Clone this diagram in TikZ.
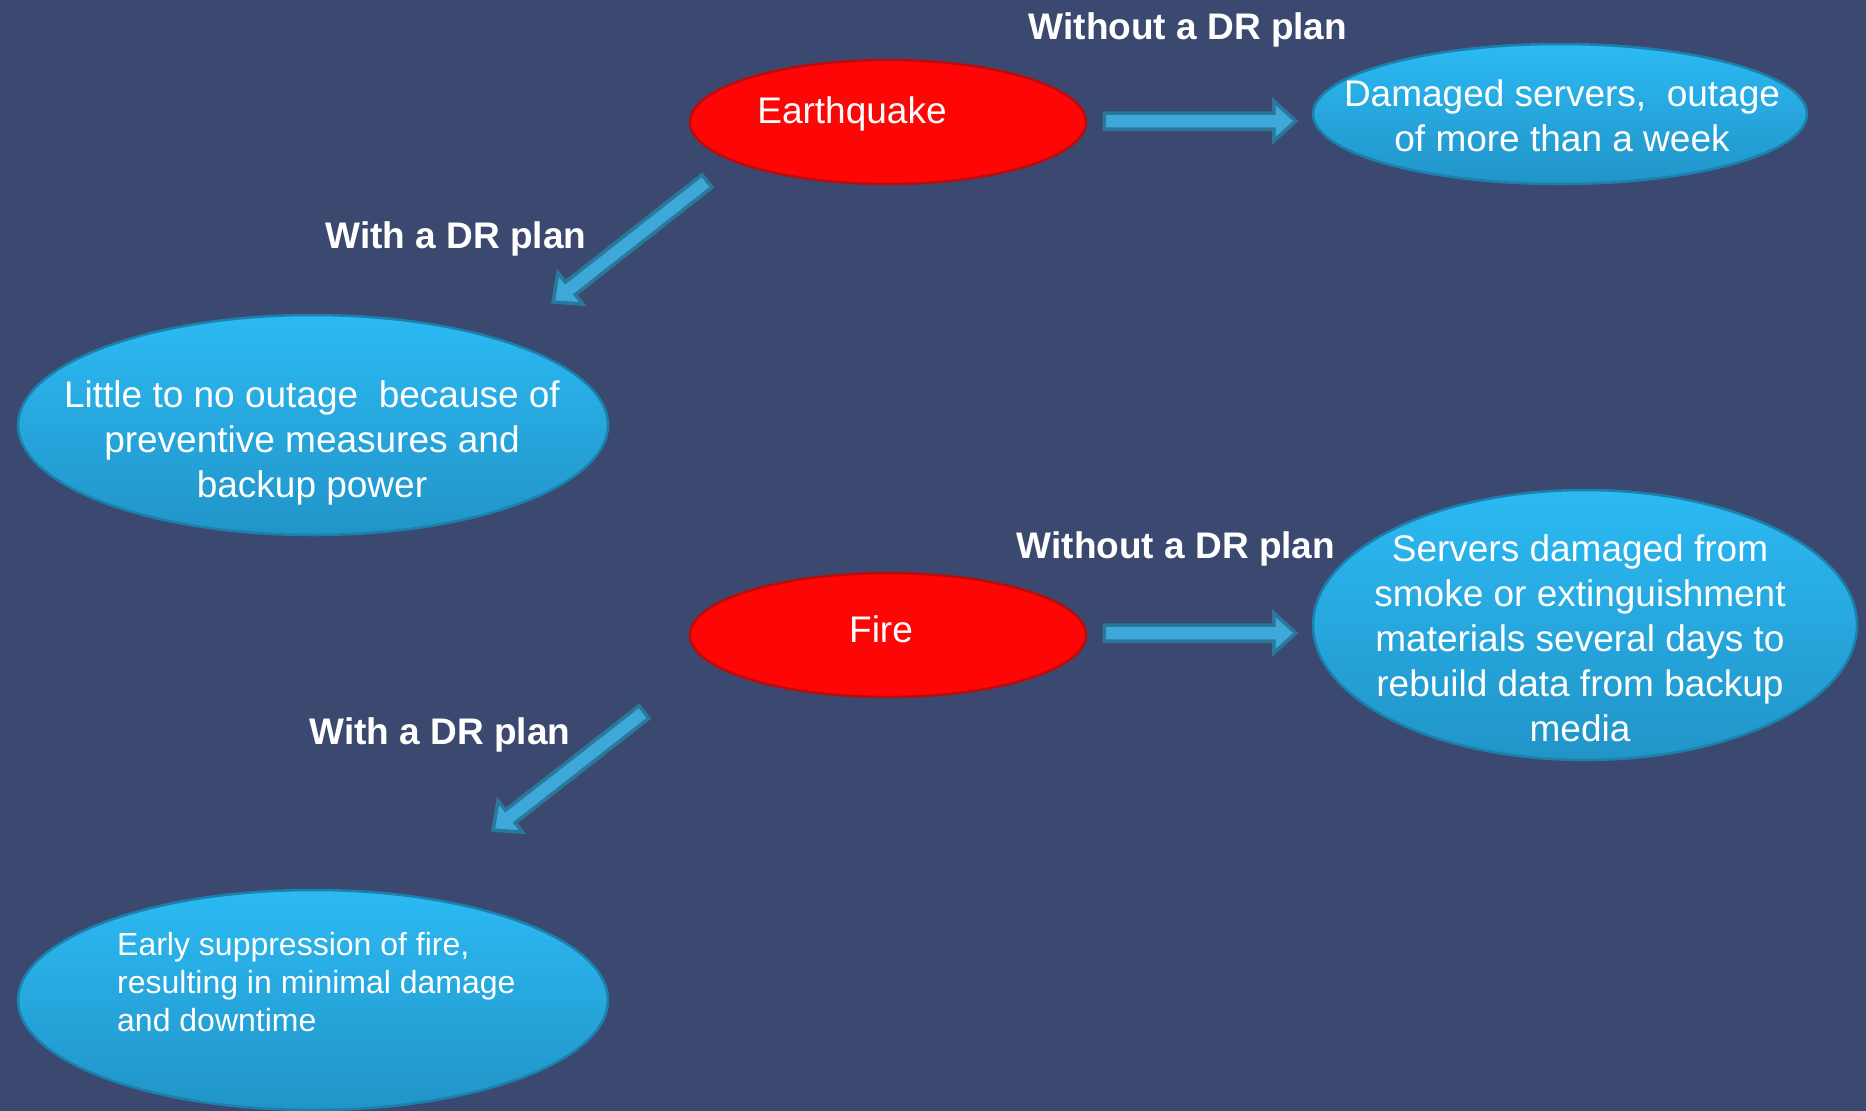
\documentclass[tikz,border=0pt]{standalone}
\usepackage{fontspec}
\setmainfont{Liberation Sans}
\usetikzlibrary{calc,shapes.geometric}
\definecolor{bg}{RGB}{59,73,112}
\definecolor{redfill}{RGB}{255,6,6}
\definecolor{redline}{RGB}{185,12,12}
\definecolor{bluetop}{RGB}{44,186,243}
\definecolor{bluebot}{RGB}{33,148,200}
\definecolor{blueline}{RGB}{28,128,172}
\definecolor{arrfill}{RGB}{62,168,216}
\definecolor{arrline}{RGB}{42,120,156}
\tikzset{
  redell/.style={ellipse, fill=redfill, draw=redline, line width=2.5pt, inner sep=0pt},
  blueell/.style={ellipse, top color=bluetop, bottom color=bluebot, draw=blueline, line width=2.5pt, inner sep=0pt},
  txt/.style={text=white, font=\fontsize{37}{45}\selectfont, align=center, inner sep=0pt},
  smalltxt/.style={text=white, font=\fontsize{32}{38}\selectfont, align=left, inner sep=0pt},
  lbl/.style={text=white, font=\bfseries\fontsize{37}{45}\selectfont, inner sep=0pt},
  blockarr/.style={fill=arrfill, draw=arrline, line width=3.5pt, line join=miter},
}
\newcommand\blockarrow[2]{%
  \draw[blockarr] let \p1=(#1), \p2=(#2), \n1={atan2(\y2-\y1,\x2-\x1)}, \n2={veclen(\x2-\x1,\y2-\y1)} in
  [shift={(\p1)}, rotate=\n1] (0,-8) -- ({\n2-22},-8) -- ({\n2-22},-20) -- (\n2,0) -- ({\n2-22},20) -- ({\n2-22},8) -- (0,8) -- cycle;}
\begin{document}
\begin{tikzpicture}[x=1pt,y=-1pt]
\useasboundingbox (0,0) rectangle (1866,1111);
\fill[bg] (0,0) rectangle (1866,1111);

% ellipses
\node[redell, minimum width=396pt, minimum height=124pt] (eq) at (888,122) {};
\node[blueell, minimum width=494pt, minimum height=140pt] (dmg) at (1560,114) {};
\node[blueell, minimum width=590pt, minimum height=220pt] (little) at (313,425) {};
\node[redell, minimum width=396pt, minimum height=124pt] (fire) at (888,635) {};
\node[blueell, minimum width=544pt, minimum height=270pt] (srv) at (1585,625) {};
\node[blueell, minimum width=590pt, minimum height=220pt] (early) at (313,1000) {};

% texts
\node[txt] (eqt) at (852,114) {Earthquake};
\node[txt] (dmgt) at (1562,116) {Damaged servers,\ \ outage\\of more than a week};
\node[txt] (littlet) at (312,443) {Little to no outage\ \ because of\\preventive measures and\\backup power};
\node[txt] (firet) at (881,629) {Fire};
\node[txt] (srvt) at (1580,638) {Servers damaged from\\smoke or extinguishment\\materials several days to\\rebuild data from backup\\media};
\node[smalltxt, anchor=north west] (earlyt) at (117,932) {Early suppression of fire,\\resulting in minimal damage\\and downtime};

% labels
\node[lbl] (w1) at (1188,30) {Without a DR plan};
\node[lbl] (d1) at (456,239) {With a DR plan};
\node[lbl] (w2) at (1176,549) {Without a DR plan};
\node[lbl] (d2) at (440,735) {With a DR plan};

% arrow end points
\coordinate (a1s) at ($(eq.east)+(17,-1)$);
\coordinate (a1e) at ($(dmg.west)+(-16,7)$);
\coordinate (a2s) at (707,181);
\coordinate (a2e) at (553,302);
\coordinate (a3s) at ($(fire.east)+(17,-2)$);
\coordinate (a3e) at ($(srv.west)+(-16,8)$);
\coordinate (a4s) at (644,712);
\coordinate (a4e) at (493,830);

\blockarrow{a1s}{a1e}
\blockarrow{a2s}{a2e}
\blockarrow{a3s}{a3e}
\blockarrow{a4s}{a4e}
\end{tikzpicture}
\end{document}
